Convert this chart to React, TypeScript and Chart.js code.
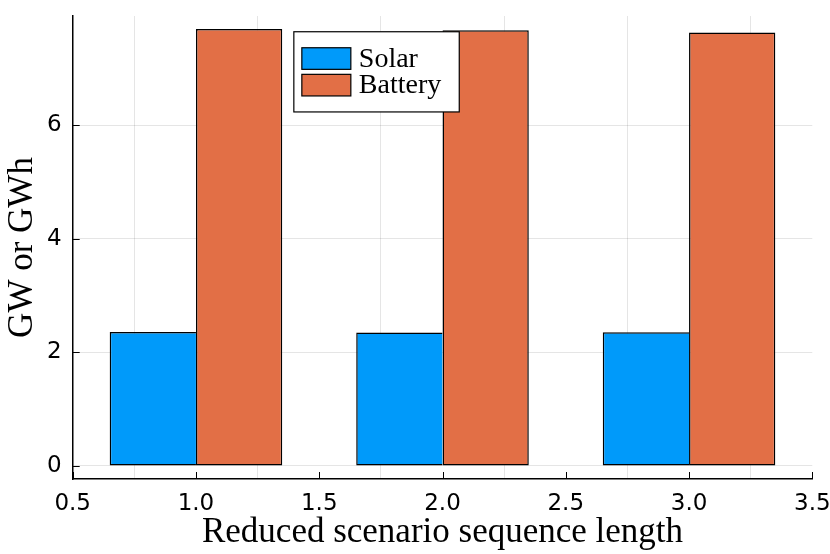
import { useEffect, useRef } from "react";
import { Chart, registerables } from "chart.js";

Chart.register(...registerables);

// sequence lengths and sized capacities
const seqLengths = [1, 2, 3];
const solarValues = [2.36, 2.35, 2.355];
const batteryValues = [7.7, 7.68, 7.64];
const xTicks = [0.5, 1.0, 1.5, 2.0, 2.5, 3.0, 3.5];
const yTicks = [0, 2, 4, 6];

const tickFont = { family: "'DejaVu Sans', sans-serif", size: 23 };
const serif = "'Liberation Serif', serif";

// short tick marks pointing into the plot, like Plots.jl does
const innerTicks = {
  id: "innerTicks",
  afterDraw(chart: any) {
    const { ctx, chartArea, scales } = chart;
    ctx.save();
    ctx.strokeStyle = "#000";
    ctx.lineWidth = 1;
    ctx.beginPath();
    for (const v of xTicks) {
      const px = Math.round(scales.x.getPixelForValue(v)) + 0.5;
      ctx.moveTo(px, chartArea.bottom);
      ctx.lineTo(px, chartArea.bottom - 7);
    }
    for (const v of yTicks) {
      const py = Math.round(scales.y.getPixelForValue(v)) + 0.5;
      ctx.moveTo(chartArea.left, py);
      ctx.lineTo(chartArea.left + 7, py);
    }
    ctx.stroke();
    ctx.restore();
  },
};

// boxed legend sitting inside the plot area
const insetLegend = {
  id: "insetLegend",
  afterDraw(chart: any) {
    const { ctx, chartArea } = chart;
    const sets = chart.data.datasets;
    ctx.save();
    ctx.font = `28px ${serif}`;
    const textW = Math.max(...sets.map((d: any) => ctx.measureText(d.label).width));
    const left = chartArea.left + (chartArea.right - chartArea.left) * 0.299;
    const top = chartArea.top + (chartArea.bottom - chartArea.top) * 0.034;
    const rowH = 26.6;
    const w = 8 + 49 + 8 + textW + 18;
    const h = 16 + rowH * sets.length + 11;
    ctx.fillStyle = "#fff";
    ctx.fillRect(left, top, w, h);
    ctx.strokeStyle = "#000";
    ctx.lineWidth = 1.2;
    ctx.strokeRect(left, top, w, h);
    sets.forEach((d: any, i: number) => {
      const sy = top + 16 + i * rowH;
      ctx.fillStyle = d.backgroundColor;
      ctx.fillRect(left + 8, sy, 49, 21.6);
      ctx.strokeRect(left + 8, sy, 49, 21.6);
      ctx.fillStyle = "#000";
      ctx.textBaseline = "alphabetic";
      ctx.fillText(d.label, left + 8 + 49 + 8, sy + 19);
    });
    ctx.restore();
  },
};

const noPad = (s: any) => {
  s.paddingTop = 0;
  s.paddingBottom = 0;
  s.paddingLeft = 0;
  s.paddingRight = 0;
};

const App = () => {
  const canvasRef = useRef<HTMLCanvasElement>(null);

  useEffect(() => {
    document.body.style.margin = "0";
    if (!canvasRef.current) return;
    const chart = new Chart(canvasRef.current, {
      type: "bar",
      data: {
        datasets: [
          {
            label: "Solar",
            data: seqLengths.map((x, i) => ({ x, y: solarValues[i] })),
            backgroundColor: "#009AFA",
            borderColor: "#000",
            // the battery bar draws the shared edge
            borderWidth: { top: 1.5, left: 1.5, bottom: 1.5, right: 0 },
            borderSkipped: false,
          },
          {
            label: "Battery",
            data: seqLengths.map((x, i) => ({ x, y: batteryValues[i] })),
            backgroundColor: "#E26F46",
            borderColor: "#000",
            borderWidth: 1.5,
            borderSkipped: false,
          },
        ],
      } as any,
      options: {
        animation: false,
        responsive: true,
        maintainAspectRatio: false,
        layout: { padding: { top: 16, right: 17.7, left: 0, bottom: 0 } },
        // ruler spacing comes from the 0.5 tick step, so 1.4 gives 0.7 of a unit
        datasets: { bar: { categoryPercentage: 1.4, barPercentage: 1 } },
        plugins: { legend: { display: false }, tooltip: { enabled: false } },
        scales: {
          x: {
            type: "linear",
            min: 0.5,
            max: 3.5,
            offset: false,
            afterBuildTicks: (s: any) => {
              s.ticks = xTicks.map((v) => ({ value: v }));
            },
            afterFit: (s: any) => {
              s.height = 75;
              noPad(s);
            },
            grid: { color: "rgba(0,0,0,0.1)", lineWidth: 1, drawTicks: false },
            border: { color: "#000", width: 1.5 },
            ticks: {
              padding: 11,
              font: tickFont,
              color: "#000",
              maxRotation: 0,
              autoSkip: false,
              callback: (v: any) => Number(v).toFixed(1),
            },
            title: {
              display: true,
              text: "Reduced scenario sequence length",
              font: { family: serif, size: 35 },
              color: "#000",
              padding: { top: 0, bottom: 0 },
            },
          },
          y: {
            type: "linear",
            min: -0.231,
            max: 7.93,
            afterBuildTicks: (s: any) => {
              s.ticks = yTicks.map((v) => ({ value: v }));
            },
            afterFit: (s: any) => {
              s.width = 72.7;
              noPad(s);
            },
            grid: { color: "rgba(0,0,0,0.1)", lineWidth: 1, drawTicks: false },
            border: { color: "#000", width: 1.5 },
            ticks: { padding: 11, font: tickFont, color: "#000" },
            title: {
              display: true,
              text: "GW or GWh",
              font: { family: serif, size: 35 },
              color: "#000",
              padding: { top: 2, bottom: 0 },
            },
          },
        },
      } as any,
      plugins: [innerTicks, insetLegend],
    });

    return () => {
      chart.destroy();
    };
  }, []);

  return (
    <div style={{ width: 830, height: 554, position: "relative", background: "#fff" }}>
      <canvas ref={canvasRef} />
    </div>
  );
};

export default App;
